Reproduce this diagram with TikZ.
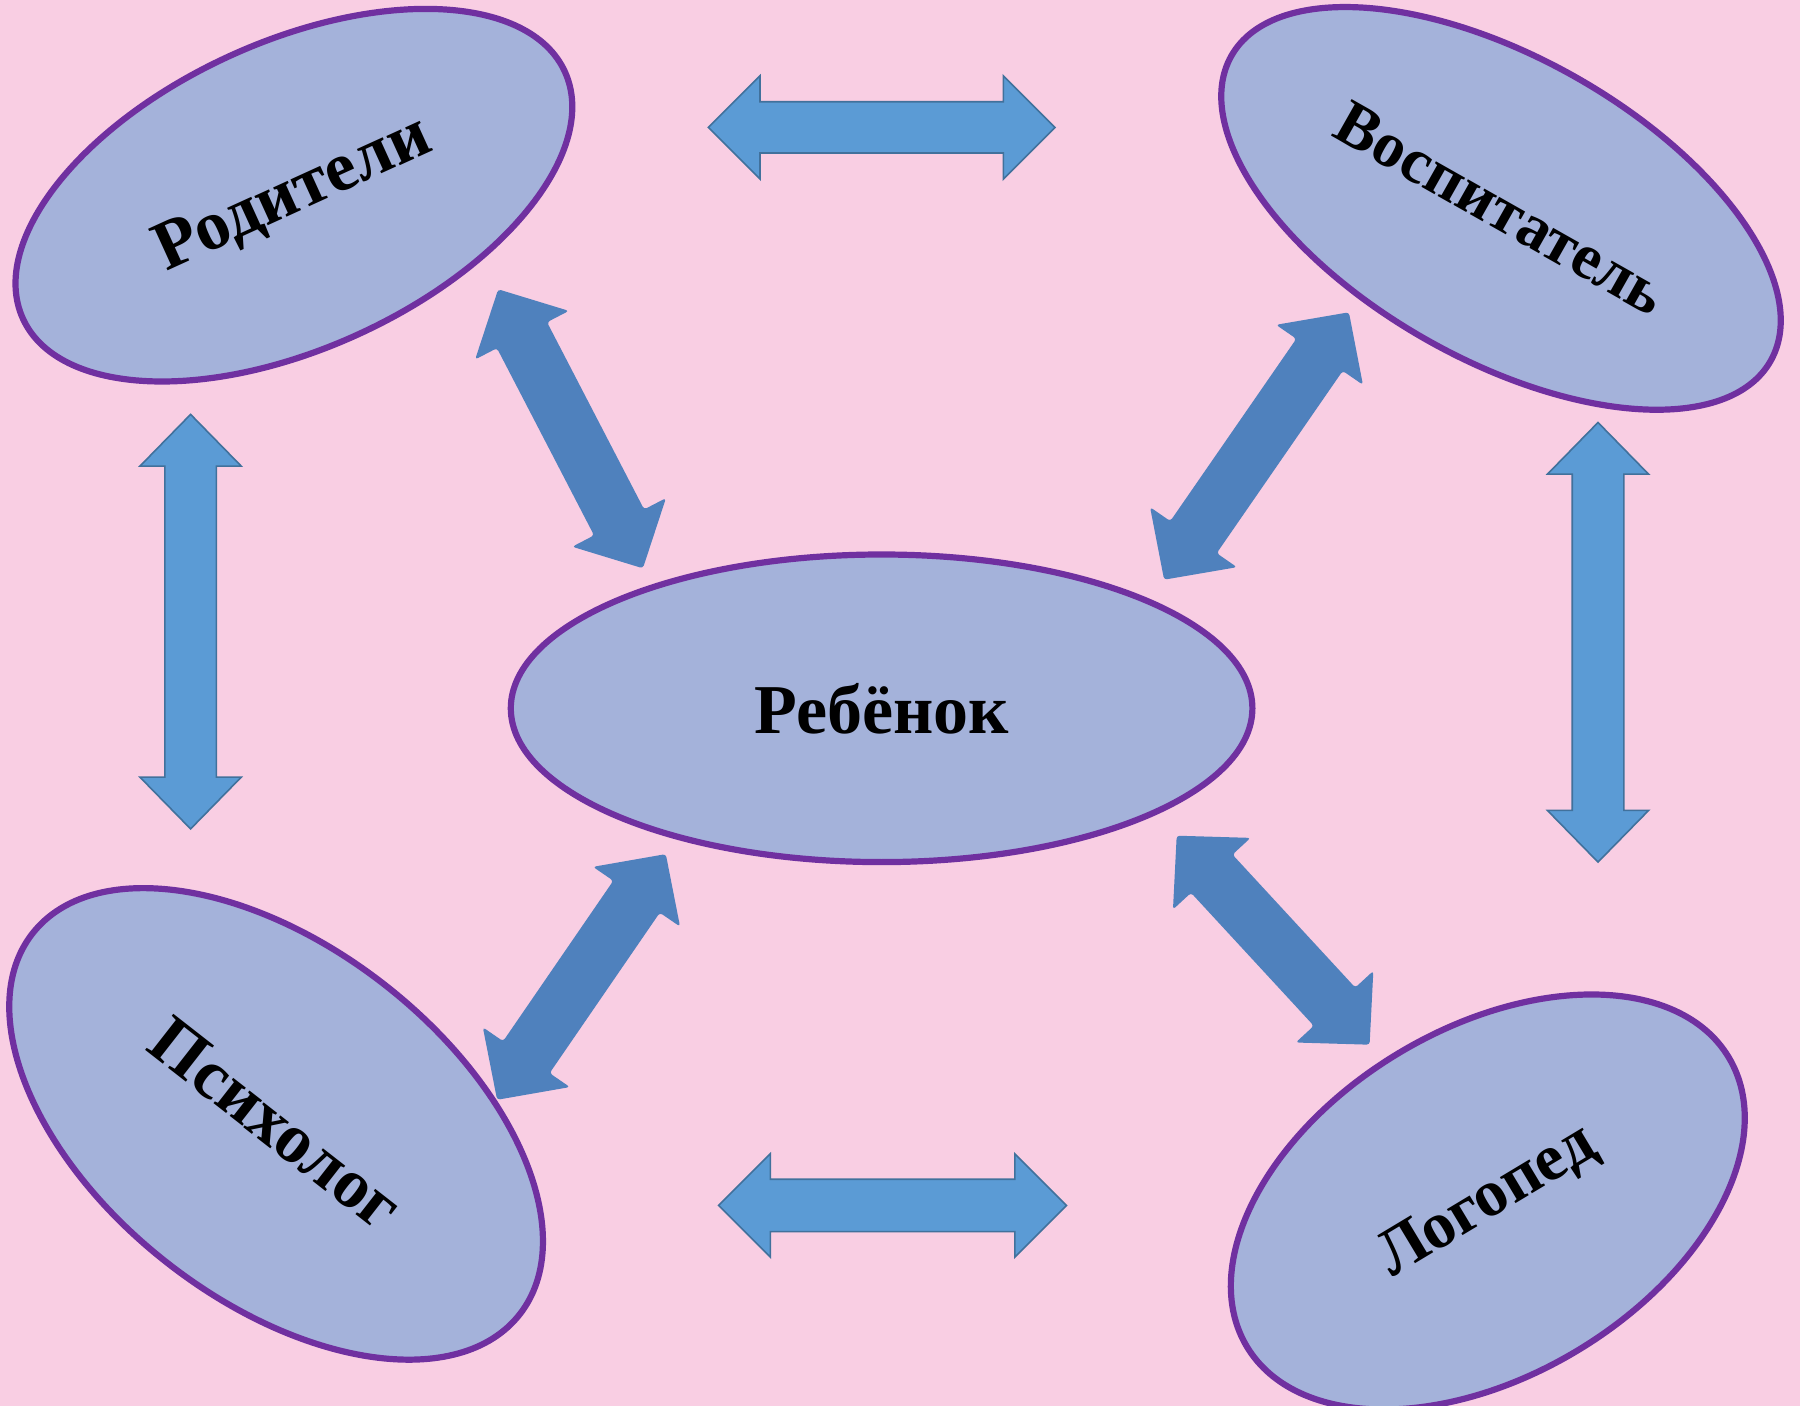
\documentclass[tikz,border=0pt]{standalone}
\usepackage{fontspec}
\setmainfont{Liberation Serif}
\usetikzlibrary{shapes.geometric,calc}
\definecolor{bgpink}{HTML}{F9CEE3}
\definecolor{ellfill}{HTML}{A4B2DA}
\definecolor{ellline}{HTML}{7030A0}
\definecolor{lightarr}{HTML}{5B9BD5}
\definecolor{lightarrline}{HTML}{41719C}
\definecolor{darkarr}{HTML}{4F81BD}
\newcommand\dblarrow[6]{%
 \path[#1] let \p1=($(#3)-(#2)$), \n1={atan2(\y1,\x1)} in
 (#2) -- ($(#2)+(\n1:#4)+(\n1+90:#5)$) -- ($(#2)+(\n1:#4)+(\n1+90:#6)$)
 -- ($(#3)+(\n1:-#4)+(\n1+90:#6)$) -- ($(#3)+(\n1:-#4)+(\n1+90:#5)$) -- (#3)
 -- ($(#3)+(\n1:-#4)+(\n1-90:#5)$) -- ($(#3)+(\n1:-#4)+(\n1-90:#6)$)
 -- ($(#2)+(\n1:#4)+(\n1-90:#6)$) -- ($(#2)+(\n1:#4)+(\n1-90:#5)$) -- cycle;}
\tikzset{
 oval/.style={ellipse, draw=ellline, fill=ellfill, line width=3.1pt, inner sep=0pt,
   font=\fontsize{35}{40}\selectfont\bfseries},
 lightbox/.style={fill=lightarr, draw=lightarrline, line width=0.8pt},
 darkbox/.style={fill=darkarr, rounded corners=1.5pt},
}
\begin{document}
\begin{tikzpicture}[x=0.5pt,y=-0.5pt]
\fill[bgpink] (0,0) rectangle (1800,1406);
\useasboundingbox (0,0) rectangle (1800,1406);
% ellipses
\node[oval, minimum width=370.8pt, minimum height=153.8pt] (child) at (881.6,708.3) {Ребёнок};
\node[oval, minimum width=297.8pt, minimum height=153.3pt, rotate=24.5] (parents) at (293.9,195.2) {Родители};
\node[oval, minimum width=309.8pt, minimum height=151pt, rotate=-29.5,
  font=\fontsize{32}{38}\selectfont\bfseries] (teacher) at (1501,208.4) {Воспитатель};
\node[oval, minimum width=309.2pt, minimum height=176.5pt, rotate=-38] (psych) at (276.1,1123.9) {Психолог};
\node[oval, minimum width=281pt, minimum height=173.5pt, rotate=31,
  font=\fontsize{33}{38}\selectfont\bfseries] (logo) at (1487.8,1202) {Логопед};
% arrow tips
\coordinate (ta) at (708.3,127.4); \coordinate (tb) at (1055,127.4);
\coordinate (ba) at (718.6,1205.4); \coordinate (bb) at (1066.5,1205.4);
\coordinate (la) at (190.6,414.4); \coordinate (lb) at (190.6,828.9);
\coordinate (ra) at (1598,422.5); \coordinate (rb) at (1598,862.1);
\coordinate (d1a) at (498.2,289.3); \coordinate (d1b) at (642.9,568.3);
\coordinate (d2a) at (1348.9,312.3); \coordinate (d2b) at (1164.1,579.7);
\coordinate (d3a) at (665.8,854.1); \coordinate (d3b) at (497.1,1099.8);
\coordinate (d4a) at (1176.7,835.7); \coordinate (d4b) at (1369.6,1044.7);
% straight arrows
\dblarrow{lightbox}{ta}{tb}{25.85pt}{25.85pt}{12.8pt}
\dblarrow{lightbox}{ba}{bb}{25.85pt}{25.85pt}{13.1pt}
\dblarrow{lightbox}{la}{lb}{25.85pt}{25.3pt}{12.9pt}
\dblarrow{lightbox}{ra}{rb}{25.85pt}{25.3pt}{12.9pt}
% diagonal arrows
\dblarrow{darkbox}{d1a}{d1b}{25.85pt}{26.4pt}{14.1pt}
\dblarrow{darkbox}{d2a}{d2b}{25.85pt}{26.4pt}{14.1pt}
\dblarrow{darkbox}{d3a}{d3b}{25.85pt}{26.4pt}{14.1pt}
\dblarrow{darkbox}{d4a}{d4b}{25.85pt}{26.4pt}{14.1pt}
\end{tikzpicture}
\end{document}
